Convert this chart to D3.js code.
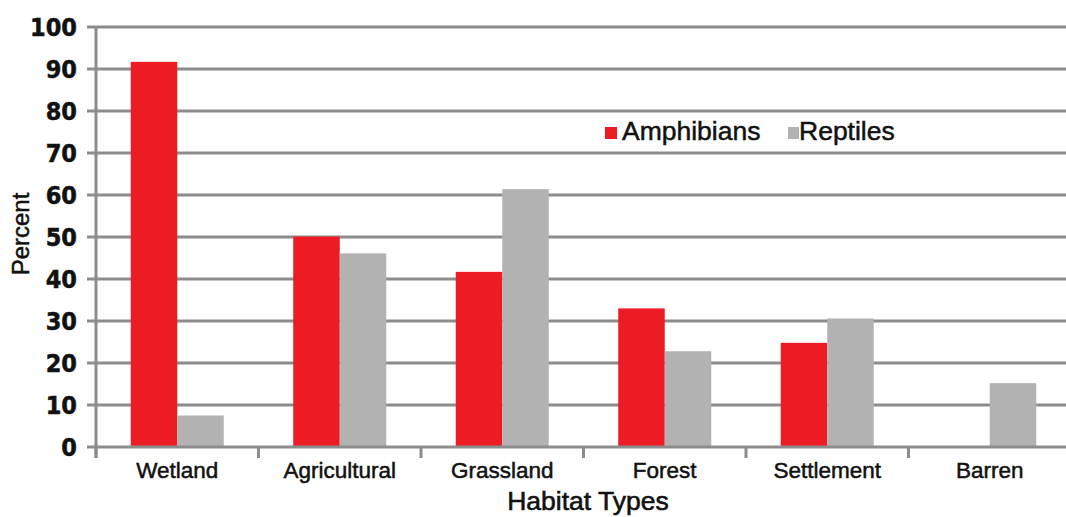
<!DOCTYPE html>
<html><head><meta charset="utf-8">
<script src="https://cdn.jsdelivr.net/npm/d3@7"></script>
<style>
html,body{margin:0;padding:0;background:#fff;}
svg{display:block;}
</style></head>
<body>
<svg id="chart" width="1066" height="517"></svg>
<script>
const categories = ["Wetland","Agricultural","Grassland","Forest","Settlement","Barren"];
const seriesNames = ["Amphibians","Reptiles"];
const amphibians = [91.7, 50.1, 41.7, 33.0, 24.8, 0];
const reptiles = [7.5, 46.1, 61.4, 22.8, 30.6, 15.2];
const yTicks = [0,10,20,30,40,50,60,70,80,90,100];
const colors = ["#ed1c24","#b2b2b2"];

const svg = d3.select("#chart");
const x0 = 96, x1 = 96 + 6*162.5, yTop = 27, yBot = 447;
const x = d3.scaleBand().domain(categories).range([x0, x1]).paddingInner(0).paddingOuter(0);
const inner = d3.scaleBand().domain(seriesNames).range([0, x.bandwidth()]).paddingInner(0).paddingOuter(0.747);
const y = d3.scaleLinear().domain([0,100]).range([yBot, yTop]);
const grid = "#8c8c8c";
const txt = "#111";
const sans = "'Liberation Sans',Arial,sans-serif";

// gridlines
svg.append("g").selectAll("line").data(yTicks.filter(d=>d>0)).join("line")
  .attr("x1", 87).attr("x2", 1066)
  .attr("y1", d=>y(d)).attr("y2", d=>y(d))
  .attr("stroke", grid).attr("stroke-width", 3);

// bars
const data = categories.map((c,i)=>({cat:c, vals:[amphibians[i], reptiles[i]]}));
const g = svg.append("g");
data.forEach(d=>{
  d.vals.forEach((v,j)=>{
    if (v<=0) return;
    g.append("rect")
      .attr("x", x(d.cat)+inner(seriesNames[j]))
      .attr("width", inner.bandwidth())
      .attr("y", y(v))
      .attr("height", y(0)-y(v))
      .attr("fill", colors[j]);
  });
});

// x axis line and ticks
svg.append("line").attr("x1",87).attr("x2",1066).attr("y1",y(0)).attr("y2",y(0))
  .attr("stroke",grid).attr("stroke-width",3);
svg.append("line").attr("x1",x0).attr("x2",x0).attr("y1",y(100)).attr("y2",458)
  .attr("stroke",grid).attr("stroke-width",3);
const bounds = categories.map(c=>x(c)).concat([x1]);
svg.append("g").selectAll("line").data(bounds).join("line")
  .attr("x1",d=>d).attr("x2",d=>d).attr("y1",y(0)).attr("y2",458)
  .attr("stroke",grid).attr("stroke-width",3);

// y tick labels
svg.append("g").selectAll("text").data(yTicks).join("text")
  .attr("x", 77).attr("y", d=>y(d)+9)
  .attr("text-anchor","end")
  .attr("font-family","'DejaVu Sans Condensed','DejaVu Sans',sans-serif")
  .attr("font-stretch","condensed")
  .attr("font-weight","bold").attr("font-size",25).attr("fill",txt)
  .attr("stroke",txt).attr("stroke-width",0.5)
  .text(d=>d);

// category labels
svg.append("g").selectAll("text").data(categories).join("text")
  .attr("x", d=>x(d)+x.bandwidth()/2).attr("y", 478)
  .attr("text-anchor","middle")
  .attr("font-family",sans)
  .attr("font-size",22.5).attr("fill",txt)
  .attr("stroke",txt).attr("stroke-width",0.5)
  .text(d=>d);

// axis titles
svg.append("text").attr("x",588).attr("y",510).attr("text-anchor","middle")
  .attr("font-family",sans)
  .attr("font-size",26.5).attr("fill",txt)
  .attr("stroke",txt).attr("stroke-width",0.6)
  .text("Habitat Types");
svg.append("text").attr("transform","translate(29,234) rotate(-90)").attr("text-anchor","middle")
  .attr("font-family",sans)
  .attr("font-size",24).attr("fill",txt)
  .attr("stroke",txt).attr("stroke-width",0.5)
  .text("Percent");

// legend
const legend = [{name:"Amphibians", sx:605, tx:622, sw:12},{name:"Reptiles", sx:788, tx:799, sw:11}];
legend.forEach((l,i)=>{
  svg.append("rect").attr("x",l.sx).attr("y",127).attr("width",l.sw).attr("height",12).attr("fill",colors[i]);
  svg.append("text").attr("x",l.tx).attr("y",140)
    .attr("font-family",sans)
    .attr("font-size",26.5).attr("fill",txt)
    .attr("stroke",txt).attr("stroke-width",0.5)
    .text(l.name);
});
</script>
</body></html>
